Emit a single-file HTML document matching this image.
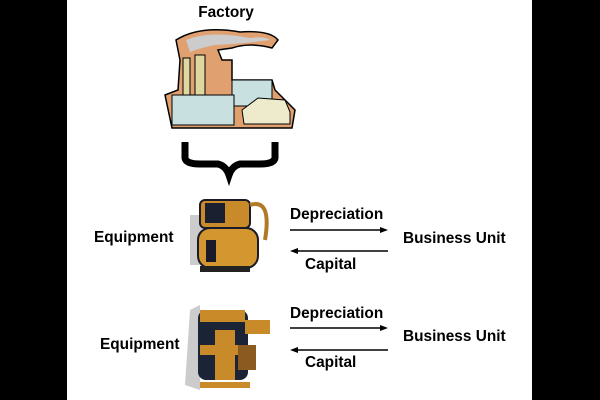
<!DOCTYPE html>
<html><head><style>
body{margin:0;width:600px;height:400px;overflow:hidden;background:#fff}
svg{display:block}
text{font-family:"Liberation Sans",Arial,sans-serif;font-weight:bold;font-size:15.4px;fill:#000}
</style></head><body>
<svg width="600" height="400" viewBox="0 0 600 400">
<rect x="0" y="0" width="67" height="400" fill="#000"/>
<rect x="532" y="0" width="68" height="400" fill="#000"/>
<text x="226" y="17" text-anchor="middle">Factory</text>
<!-- factory -->
<path d="M176 40 Q200 25 240 32 Q270 30 278 40 L272 48 Q250 42 232 48 L218 50 L222 60 L232 60 L232 80 L272 80 L275 90 L295 110 L292 128 L172 128 L165 95 L178 90 L180 60 Z" fill="#e0a070" stroke="#000" stroke-width="1.5"/>
<path d="M183 58 L190 58 L190 95 L183 95 Z M195 55 L205 55 L205 95 L195 95Z" fill="#ded8a0" stroke="#000"/>
<path d="M186 40 Q210 30 250 38 Q265 36 270 40 Q240 44 215 45 Q200 48 190 52Z" fill="#ccc"/>
<rect x="232" y="80" width="40" height="26" fill="#c8e0e0" stroke="#000"/>
<rect x="172" y="95" width="62" height="30" fill="#c8e0e0" stroke="#000"/>
<path d="M242 110 L258 98 L285 100 L290 112 L290 124 L244 124 Z" fill="#eeeacc" stroke="#000"/>
<!-- brace -->
<path d="M185 142 L185 158 Q186 164 200 164 L218 164 Q226 166 229 175 Q232 166 240 164 L260 164 Q274 164 275 158 L275 142" fill="none" stroke="#000" stroke-width="7"/>
<!-- pump 1 -->
<rect x="190" y="215" width="12" height="50" fill="#ccc"/>
<rect x="200" y="200" width="50" height="28" rx="5" fill="#c98a2a" stroke="#1a1a2a" stroke-width="2"/>
<rect x="198" y="228" width="60" height="40" rx="12" fill="#d4962e" stroke="#1a1a2a" stroke-width="2"/>
<rect x="206" y="240" width="10" height="22" fill="#1a1a2a"/>
<rect x="205" y="203" width="20" height="20" fill="#1a2030"/>
<path d="M250 205 Q272 198 265 240" fill="none" stroke="#b07a28" stroke-width="4"/>
<rect x="200" y="266" width="50" height="6" fill="#222"/>
<!-- pump 2 -->
<path d="M190 310 L200 305 L200 390 L185 385Z" fill="#ccc"/>
<rect x="198" y="310" width="50" height="70" rx="8" fill="#1a2436"/>
<rect x="200" y="310" width="45" height="12" fill="#c98a2a"/>
<rect x="200" y="345" width="45" height="10" fill="#c98a2a"/>
<rect x="215" y="330" width="20" height="50" fill="#c98a2a"/>
<rect x="245" y="320" width="25" height="14" fill="#c98a2a"/>
<rect x="238" y="345" width="18" height="25" fill="#8a5a20"/>
<rect x="200" y="382" width="50" height="6" fill="#c98a2a"/>
<!-- labels -->
<text x="94" y="242">Equipment</text>
<text x="100" y="349">Equipment</text>
<g>
<text x="290" y="219">Depreciation</text>
<line x1="290" y1="230" x2="382" y2="230" stroke="#000" stroke-width="1.5"/>
<path d="M388 230 L380 227 L380 233Z"/>
<line x1="296" y1="251" x2="388" y2="251" stroke="#000" stroke-width="1.5"/>
<path d="M290 251 L298 248 L298 254Z"/>
<text x="305" y="269">Capital</text>
<text x="403" y="243">Business Unit</text>
</g>
<g>
<text x="290" y="318">Depreciation</text>
<line x1="290" y1="328" x2="382" y2="328" stroke="#000" stroke-width="1.5"/>
<path d="M388 328 L380 325 L380 331Z"/>
<line x1="296" y1="350" x2="388" y2="350" stroke="#000" stroke-width="1.5"/>
<path d="M290 350 L298 347 L298 353Z"/>
<text x="305" y="367">Capital</text>
<text x="403" y="341">Business Unit</text>
</g>
</svg>
</body></html>
